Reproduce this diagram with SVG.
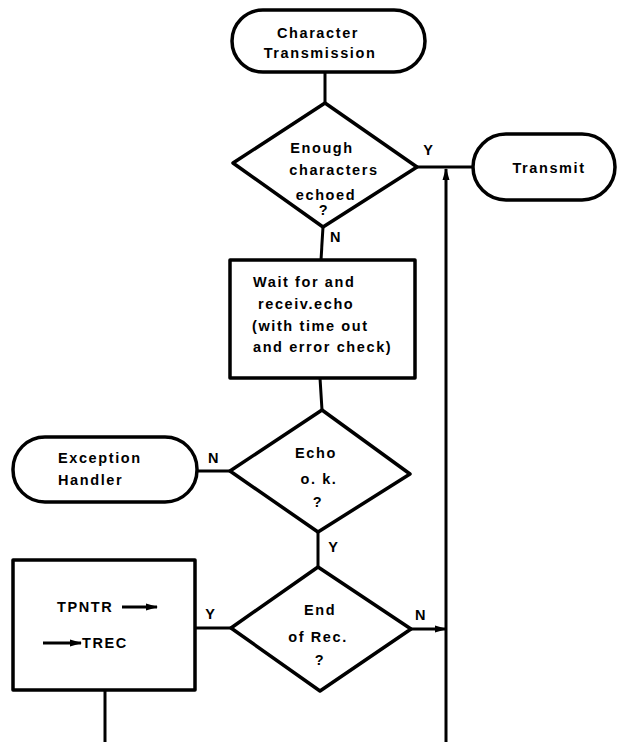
<svg xmlns="http://www.w3.org/2000/svg" width="623" height="742" viewBox="0 0 623 742">
<defs>
<style>
.s{fill:#fff;stroke:#000;stroke-width:3.5;stroke-linejoin:round}
.c{fill:none;stroke:#000;stroke-width:3}
.t{font-family:"Liberation Sans",Arial,sans-serif;font-weight:bold;font-size:14.5px;fill:#000;text-anchor:middle;letter-spacing:1.6px}
.l{text-anchor:start}
</style>
<marker id="ah" markerWidth="12" markerHeight="10" refX="11" refY="5" orient="auto" markerUnits="userSpaceOnUse">
<path d="M0,1.5 L12,5 L0,8.5 Z" fill="#000"/>
</marker>
</defs>
<rect width="623" height="742" fill="#fff"/>
<g id="connectors">
<line class="c" x1="325" y1="72" x2="325" y2="103"/>
<line class="c" x1="417" y1="167" x2="473" y2="167"/>
<line class="c" x1="446" y1="742" x2="446" y2="169" marker-end="url(#ah)"/>
<line class="c" x1="323" y1="227" x2="321" y2="260"/>
<line class="c" x1="320" y1="378" x2="322" y2="410"/>
<line class="c" x1="230" y1="471" x2="196" y2="471"/>
<line class="c" x1="318" y1="532" x2="318" y2="567"/>
<line class="c" x1="231" y1="628" x2="195" y2="628"/>
<line class="c" x1="411" y1="629" x2="446" y2="629" marker-end="url(#ah)"/>
<line class="c" x1="105" y1="690" x2="105" y2="742"/>
</g>
<g id="n-start">
<rect class="s" x="232" y="10" width="193" height="62" rx="31"/>
<text class="t" x="318" y="38">Character</text>
<text class="t" x="320" y="58">Transmission</text>
</g>
<g id="n-enough">
<polygon class="s" points="325,103 417,167 323,227 233,163"/>
<text class="t" x="322" y="153">Enough</text>
<text class="t" x="334" y="175">characters</text>
<text class="t" x="326" y="200">echoed</text>
<text class="t" x="324" y="215">?</text>
</g>
<g id="n-transmit">
<rect class="s" x="473" y="134" width="142" height="66" rx="33"/>
<text class="t" x="549" y="173">Transmit</text>
</g>
<g id="n-wait">
<rect class="s" x="230" y="260" width="185" height="118"/>
<text class="t l" x="253" y="287">Wait for and</text>
<text class="t l" x="258" y="309">receiv.echo</text>
<text class="t l" x="252" y="331">(with time out</text>
<text class="t l" x="253" y="352">and error check)</text>
</g>
<g id="n-echo">
<polygon class="s" points="322,410 410,474 318,532 230,471"/>
<text class="t" x="316" y="458">Echo</text>
<text class="t" x="319" y="484">o. k.</text>
<text class="t" x="318" y="507">?</text>
</g>
<g id="n-exception">
<rect class="s" x="13" y="437" width="184" height="65" rx="32"/>
<text class="t l" x="58" y="463">Exception</text>
<text class="t l" x="58" y="485">Handler</text>
</g>
<g id="n-end">
<polygon class="s" points="318,567 411,629 320,691 231,628"/>
<text class="t" x="320" y="615">End</text>
<text class="t" x="318" y="642">of Rec.</text>
<text class="t" x="320" y="665">?</text>
</g>
<g id="n-tpntr">
<rect class="s" x="13" y="560" width="182" height="130"/>
<text class="t l" x="57" y="612">TPNTR</text>
<line class="c" x1="122" y1="607" x2="157" y2="607" marker-end="url(#ah)"/>
<line class="c" x1="43" y1="643" x2="81" y2="643" marker-end="url(#ah)"/>
<text class="t l" x="82" y="648">TREC</text>
</g>
<g id="labels">
<text class="t" x="429" y="155">Y</text>
<text class="t" x="336" y="242">N</text>
<text class="t" x="214" y="463">N</text>
<text class="t" x="334" y="552">Y</text>
<text class="t" x="211" y="619">Y</text>
<text class="t" x="421" y="620">N</text>
</g>
</svg>
